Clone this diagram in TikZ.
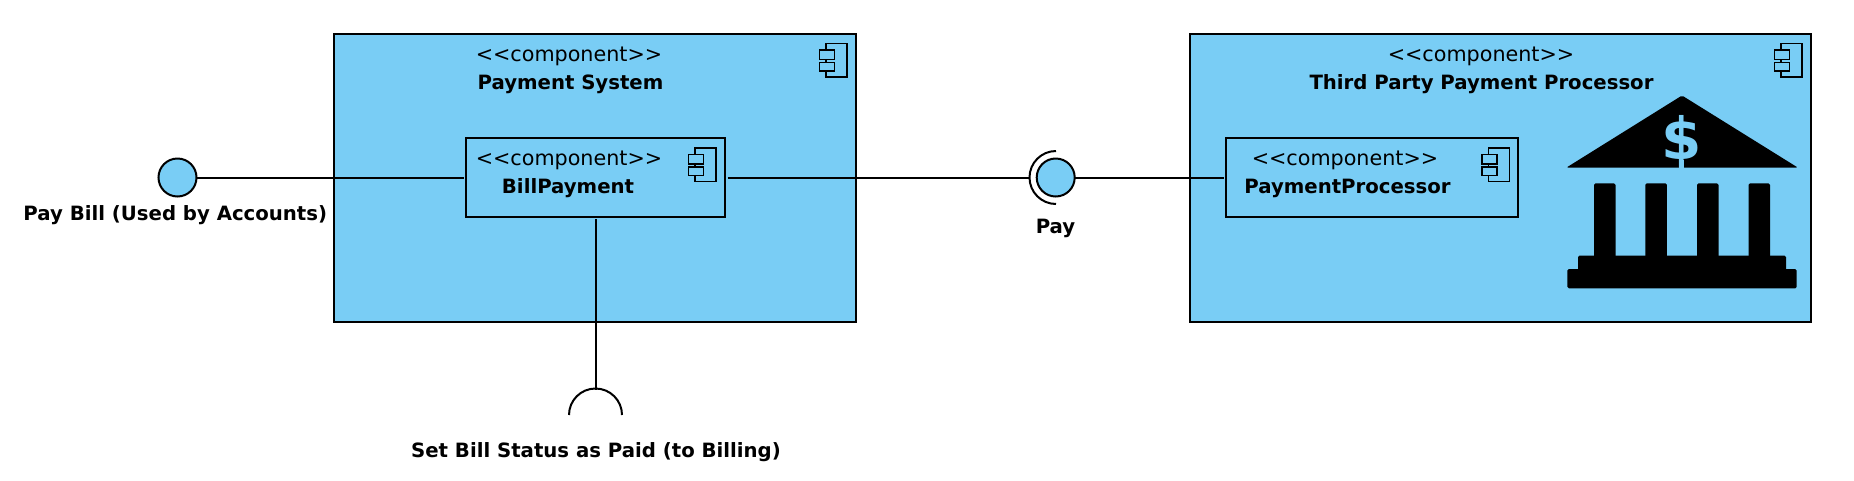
\documentclass[tikz,border=0pt]{standalone}
\usepackage{fontspec}
\setmainfont{DejaVu Sans}
\definecolor{compblue}{RGB}{121,205,245}
\tikzset{every picture/.style={line width=2pt}}
\newcommand{\stereotext}{<{}<component>{}>}
\tikzset{
	compbox/.style={draw=black,fill=compblue,inner sep=0pt,outer sep=0pt},
	iface/.style={circle,draw=black,fill=compblue,inner sep=0pt,outer sep=0pt,minimum size=38pt},
	stereo/.style={anchor=base,inner sep=0pt,font=\fontsize{20.7}{24}\selectfont},
	title/.style={anchor=base,inner sep=0pt,font=\fontsize{19.7}{24}\selectfont\bfseries},
	compicon/.pic={
		\draw [line width=1.5pt,fill=compblue] (-30,9.5) rectangle (-9,43);
		\draw [line width=1.5pt,fill=compblue] (-36.5,16) rectangle (-21.5,25.5);
		\draw [line width=1.5pt,fill=compblue] (-36.5,28.5) rectangle (-21.5,37);
	}
}

\begin{document}
\begin{tikzpicture}[x=1pt,y=1pt,yscale=-1,xscale=1]
	\useasboundingbox (0,0) rectangle (1854,480);
	
	%Shape: Rectangle
	\draw (595,178) node (paymentsystem) [compbox,minimum width=522pt,minimum height=288pt] {};
	%Shape: Rectangle
	\draw (1500.5,178) node (thirdparty) [compbox,minimum width=621pt,minimum height=288pt] {};
	%Shape: Rectangle
	\draw (595.5,177.5) node (billpayment) [compbox,minimum width=259pt,minimum height=78.5pt] {};
	%Shape: Rectangle
	\draw (1372.2,177.5) node (paymentprocessor) [compbox,minimum width=292.4pt,minimum height=78.5pt] {};
	
	\pic [transform shape] at (paymentsystem.north east) {compicon};
	\pic [transform shape] at (thirdparty.north east) {compicon};
	\pic [transform shape] at (billpayment.north east) {compicon};
	\pic [transform shape] at (paymentprocessor.north east) {compicon};
	
	\coordinate (payarc) at (1029.5,177.5);
	\coordinate (setbill) at (595.5,389.5);
	%Shape: Circle
	\draw (177.5,177.5) node (paybill) [iface] {};
	%Shape: Circle
	\draw (1055.7,177.5) node (pay) [iface] {};
	
	%Straight Lines
	\draw [shorten >=2.5pt] (paybill) -- (billpayment);
	\draw [shorten <=2.5pt] (billpayment) -- (payarc);
	\draw [shorten >=2.5pt] (pay) -- (paymentprocessor);
	\draw [shorten <=2.5pt] (billpayment) -- (setbill);
	%Shape: Arc
	\draw (1056,151) arc [start angle=270,end angle=90,radius=26.5];
	\draw (569,415) arc [start angle=180,end angle=360,radius=26.5];
	
	%Shape: Bank
	\fill [rounded corners=1.5pt] (1682,95.5) -- (1798,167.7) -- (1566.2,167.7) -- cycle;
	\foreach \colx in {1594,1645.3,1697,1748.5}
		\fill [rounded corners=1.5pt] (\colx,183.3) rectangle (\colx+21.5,262);
	\fill [rounded corners=1.5pt] (1578,255.7) rectangle (1786,275);
	\fill [rounded corners=1.5pt] (1567.3,269) rectangle (1796.7,288.3);
	\fill [compblue] (1679.2,160) rectangle (1684.2,168);
	\draw (1681.7,142) node (dollar) [inner sep=0pt,text=compblue,font=\fontsize{58}{60}\selectfont\bfseries] {\$};
	
	% Text Node
	\draw (569,61.7) node (paymentsystemstereo) [stereo] {\stereotext};
	% Text Node
	\draw (570.5,89.3) node (paymentsystemtitle) [title] {Payment System};
	% Text Node
	\draw (569,165) node (billpaymentstereo) [stereo] {\stereotext};
	% Text Node
	\draw (568,193) node (billpaymenttitle) [title] {BillPayment};
	% Text Node
	\draw (1481,61.7) node (thirdpartystereo) [stereo] {\stereotext};
	% Text Node
	\draw (1481.5,89.3) node (thirdpartytitle) [title] {Third Party Payment Processor};
	% Text Node
	\draw (1345,165) node (paymentprocessorstereo) [stereo] {\stereotext};
	% Text Node
	\draw (1347.5,193) node (paymentprocessortitle) [title] {PaymentProcessor};
	% Text Node
	\draw (175.3,220) node (paybilllabel) [title] {Pay Bill (Used by Accounts)};
	% Text Node
	\draw (1055.5,233.3) node (paylabel) [title] {Pay};
	% Text Node
	\draw (596,457) node (setbilllabel) [title] {Set Bill Status as Paid (to Billing)};
	
\end{tikzpicture}
\end{document}
